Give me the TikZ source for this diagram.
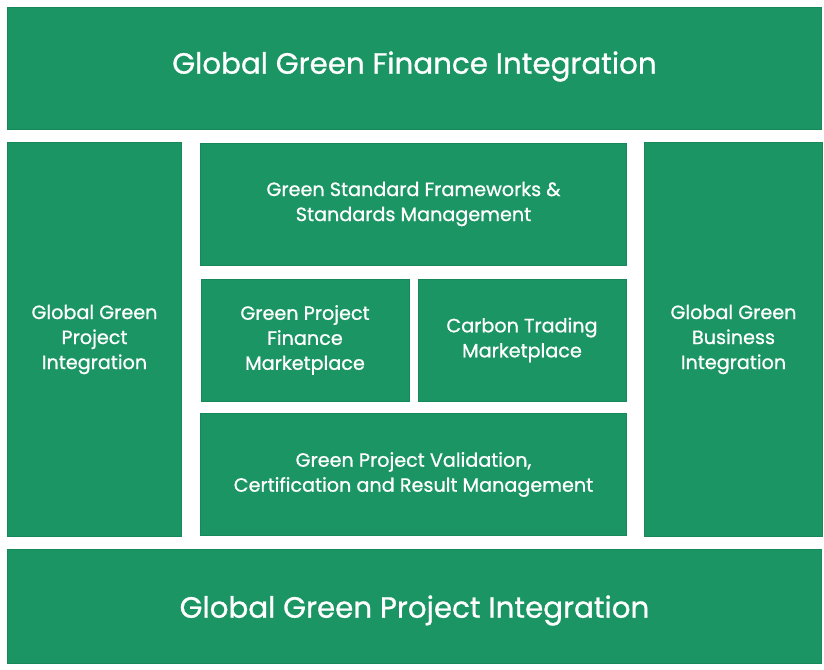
\documentclass[tikz,border=0pt]{standalone}
\usepackage{fontspec}
\setmainfont{Poppins}[FakeBold=0.9]
\usepackage{tikz}

\definecolor{leaf}{HTML}{1B9563}
\definecolor{leafedge}{HTML}{17885A}

\tikzset{
    block/.style={draw=leafedge, line width=0.6pt, fill=leaf, text=white, align=center, inner sep=0pt},
    bigtext/.style={font=\fontsize{22}{26}\selectfont, text=white},
    smalltext/.style={font=\fontsize{14.4}{18.75}\selectfont}
}

\begin{document}
\begin{tikzpicture}[x=0.75pt, y=-0.75pt]
        \useasboundingbox (0, 0) rectangle (824, 669);

        % outer frame
        \node[block, minimum width=611pt, minimum height=92pt, label={[bigtext, yshift=1.5pt]center:Global Green Finance Integration}] (finance) at (414.5, 68.5) {};
        \node[block, minimum width=611pt, minimum height=86pt, label={[bigtext, yshift=-3pt]center:Global Green Project Integration}] (projectbar) at (414.5, 606.5) {};
        \node[block, smalltext, minimum width=131pt, minimum height=295pt] (projectcol) at (94.5, 339.5) {Global Green\\Project\\Integration};
        \node[block, smalltext, minimum width=133pt, minimum height=295pt] (business) at (733.5, 339.5) {Global Green\\Business\\Integration};

        % inner blocks
        \node[block, smalltext, minimum width=319pt, minimum height=91.5pt] (standards) at (413.5, 204) {Green Standard Frameworks \&\\Standards Management};
        \node[block, smalltext, minimum width=156pt, minimum height=91.5pt] (market) at (305, 340) {Green Project\\Finance\\Marketplace};
        \node[block, smalltext, minimum width=156pt, minimum height=91.5pt] (carbon) at (522, 340) {Carbon Trading\\Marketplace};
        \node[block, smalltext, minimum width=319pt, minimum height=92pt] (validation) at (413.5, 474.5) {Green Project Validation,\\Certification and Result Management};
    \end{tikzpicture}
\end{document}
